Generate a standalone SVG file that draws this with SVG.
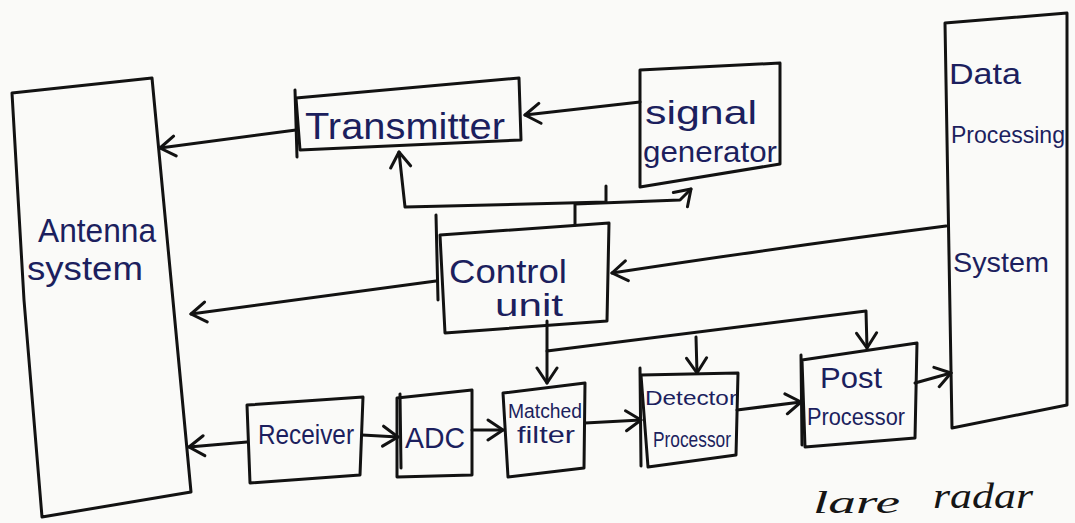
<svg xmlns="http://www.w3.org/2000/svg" width="1075" height="523" viewBox="0 0 1075 523">
  <defs>
    <style>
      .box { fill: none; stroke: #121212; stroke-width: 3; stroke-linejoin: round; stroke-linecap: round; }
      .wire { fill: none; stroke: #121212; stroke-width: 3; stroke-linejoin: round; stroke-linecap: round; }
      .arrow { marker-end: url(#head); }
      .lbl { font-family: "Liberation Sans", "DejaVu Sans", sans-serif; fill: #1c1f5e; }
      .note { font-family: "Liberation Serif", "DejaVu Serif", serif; font-style: italic; fill: #151515; }
    </style>
    <!-- open V arrowhead -->
    <marker id="head" viewBox="-17 -12 20 24" refX="0" refY="0" markerWidth="20" markerHeight="24" markerUnits="userSpaceOnUse" orient="auto">
      <path d="M-15,-10 L0,0 L-15,10" fill="none" stroke="#121212" stroke-width="3" stroke-linecap="round" stroke-linejoin="round"/>
    </marker>
  </defs>

  <rect width="1075" height="523" fill="#fafaf8"/>

  <!-- connectors -->
  <g id="connectors">
    <path class="wire arrow" d="M640,102 L525,115"/>
    <path class="wire arrow" d="M296,130 L160,148"/>
    <path class="wire arrow" d="M575,225 L575,204 L680,200 L691,189"/>
    <path class="wire arrow" d="M606,186 L606,202 L405,207 L399,152"/>
    <path class="wire arrow" d="M946,226 Q790,246 612,273"/>
    <path class="wire arrow" d="M436,281 L191,314"/>
    <path class="wire arrow" d="M547,321 L547,351 L866,311 L867,348"/>
    <path class="wire arrow" d="M547,351 L547,383"/>
    <path class="wire arrow" d="M696,337 L697,373"/>
    <path class="wire arrow" d="M247,442 L189,447"/>
    <path class="wire arrow" d="M362,435 L398,437"/>
    <path class="wire arrow" d="M472,430 L503,430"/>
    <path class="wire arrow" d="M585,423 L641,420"/>
    <path class="wire arrow" d="M737,410 L801,402"/>
    <path class="wire arrow" d="M915,383 L951,373"/>
  </g>

  <g id="antenna-system">
    <path class="box" d="M12,93 L152,78 L172,290 L191,492 L42,517 L24,300 Z"/>
    <text class="lbl" x="38" y="242" font-size="34" textLength="118" lengthAdjust="spacingAndGlyphs">Antenna</text>
    <text class="lbl" x="27" y="280" font-size="34" textLength="116" lengthAdjust="spacingAndGlyphs">system</text>
  </g>

  <g id="transmitter">
    <path class="box" d="M296,98 L519,78 L521,140 L300,150 Z"/>
    <path class="box" d="M295,90 L297,157"/>
    <text class="lbl" x="305" y="139" font-size="36" textLength="200" lengthAdjust="spacingAndGlyphs">Transmitter</text>
  </g>

  <g id="signal-generator">
    <path class="box" d="M640,70 L780,63 L780,164 L640,187 Z"/>
    <text class="lbl" x="645" y="124" font-size="34" textLength="112" lengthAdjust="spacingAndGlyphs">signal</text>
    <text class="lbl" x="643" y="162" font-size="30" textLength="134" lengthAdjust="spacingAndGlyphs">generator</text>
  </g>

  <g id="control-unit">
    <path class="box" d="M440,235 L609,223 L607,321 L445,333 Z"/>
    <path class="box" d="M436,215 L438,300"/>
    <text class="lbl" x="449" y="283" font-size="34" textLength="118" lengthAdjust="spacingAndGlyphs">Control</text>
    <text class="lbl" x="495" y="316" font-size="32" textLength="68" lengthAdjust="spacingAndGlyphs">unit</text>
  </g>

  <g id="receiver">
    <path class="box" d="M247,405 L363,397 L360,475 L250,483 Z"/>
    <text class="lbl" x="258" y="444" font-size="28" textLength="96" lengthAdjust="spacingAndGlyphs">Receiver</text>
  </g>

  <g id="adc">
    <path class="box" d="M397,398 L472,390 L472,475 L397,477 Z"/>
    <path class="box" d="M400,394 L401,468"/>
    <text class="lbl" x="405" y="448" font-size="30" textLength="60" lengthAdjust="spacingAndGlyphs">ADC</text>
  </g>

  <g id="matched-filter">
    <path class="box" d="M503,393 L585,383 L584,468 L508,477 Z"/>
    <text class="lbl" x="508" y="418" font-size="20" textLength="74" lengthAdjust="spacingAndGlyphs">Matched</text>
    <text class="lbl" x="517" y="443" font-size="24" textLength="58" lengthAdjust="spacingAndGlyphs">filter</text>
  </g>

  <g id="detector-processor">
    <path class="box" d="M641,375 L738,373 L736,455 L648,467 Z"/>
    <path class="box" d="M640,368 L641,466"/>
    <text class="lbl" x="645" y="405" font-size="21" textLength="92" lengthAdjust="spacingAndGlyphs">Detector</text>
    <text class="lbl" x="653" y="447" font-size="22" textLength="78" lengthAdjust="spacingAndGlyphs">Processor</text>
  </g>

  <g id="post-processor">
    <path class="box" d="M802,360 L917,343 L915,438 L805,447 Z"/>
    <path class="box" d="M801,355 L802,445"/>
    <text class="lbl" x="820" y="388" font-size="30" textLength="62" lengthAdjust="spacingAndGlyphs">Post</text>
    <text class="lbl" x="807" y="425" font-size="24" textLength="98" lengthAdjust="spacingAndGlyphs">Processor</text>
  </g>

  <g id="data-processing-system">
    <path class="box" d="M945,23 L1067,13 L1067,405 L952,428 Z"/>
    <text class="lbl" x="949" y="84" font-size="30" textLength="72" lengthAdjust="spacingAndGlyphs">Data</text>
    <text class="lbl" x="951" y="143" font-size="24" textLength="114" lengthAdjust="spacingAndGlyphs">Processing</text>
    <text class="lbl" x="953" y="272" font-size="28" textLength="96" lengthAdjust="spacingAndGlyphs">System</text>
  </g>

  <!-- caption along the lower edge -->
  <g id="caption">
    <text class="note" x="813" y="513" font-size="32" textLength="87" lengthAdjust="spacingAndGlyphs">lare</text>
    <text class="note" x="933" y="508" font-size="36" textLength="100" lengthAdjust="spacingAndGlyphs">radar</text>
  </g>
</svg>
